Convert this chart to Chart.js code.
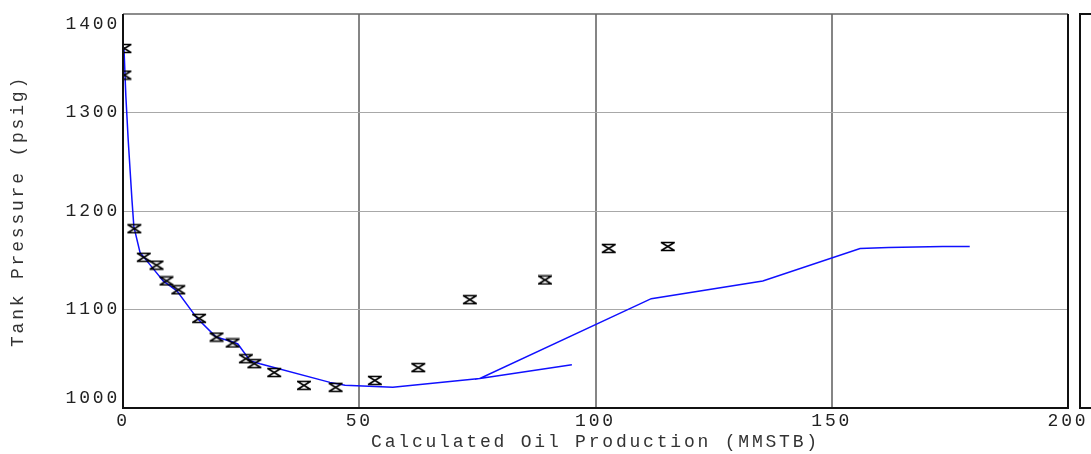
<!DOCTYPE html>
<html>
<head>
<meta charset="utf-8">
<script src="https://cdn.jsdelivr.net/npm/chart.js@4.4.0/dist/chart.umd.min.js"></script>
<style>
  html, body { margin: 0; padding: 0; background: #fff; }
  #wrap { width: 1091px; height: 454px; }
</style>
</head>
<body>
<div id="wrap"><canvas id="tankChart" width="1091" height="454"></canvas></div>
<script>
// observed tank pressure (markers)
var obsProd = [0.3, 0.3, 2.4, 4.4, 7.1, 9.2, 11.7, 16.1, 19.8, 23.2, 26.0, 27.8, 32.0, 38.3, 45.0, 53.3, 62.5, 73.4, 89.3, 102.8, 115.3];
var obsPres = [1365, 1338, 1182, 1153, 1145, 1129, 1120, 1091, 1072, 1066, 1050, 1045, 1036, 1023, 1021, 1028, 1041, 1110, 1130, 1162, 1164];

// calculated tank pressure (line)
var calcProd = [0.2, 0.6, 1.1, 1.9, 2.3, 3.6, 6.3, 8.5, 11.4, 15.7, 19.7, 22.6, 24.3, 26.9, 29.0, 43.8, 47.0, 57.1, 75.5, 95.0, 75.5, 111.8, 135.4, 156.0, 162.0, 173.5, 179.2];
var calcPres = [1366, 1317, 1272, 1211, 1184, 1158, 1142, 1129, 1119, 1091, 1072, 1068, 1065, 1048, 1045, 1026, 1023, 1021, 1030, 1044, 1030, 1111, 1129, 1162, 1163, 1164, 1164];

var xTicks = [0, 50, 100, 150, 200];
var yTicks = [1000, 1100, 1200, 1300, 1400];

var FONT = "'Liberation Mono', 'Courier New', monospace";
var FSIZE = 18;

// hourglass marker
function makeMarker() {
  var c = document.createElement('canvas');
  c.width = 16;
  c.height = 11;
  var g = c.getContext('2d');
  g.strokeStyle = '#000';
  g.lineWidth = 1.5;
  g.beginPath();
  g.moveTo(1, 1.5); g.lineTo(15, 1.5);
  g.moveTo(1, 9.5); g.lineTo(15, 9.5);
  g.moveTo(1.5, 1.5); g.lineTo(14.5, 9.5);
  g.moveTo(14.5, 1.5); g.lineTo(1.5, 9.5);
  g.stroke();
  return c;
}

function toPoints(xs, ys) {
  var pts = [];
  for (var i = 0; i < xs.length; i++) {
    pts.push({x: xs[i], y: ys[i]});
  }
  return pts;
}

// spaced-out text like the original
var spacing = {
  id: 'spacing',
  beforeUpdate: function(chart) { chart.ctx.letterSpacing = '2.8px'; },
  beforeDraw: function(chart) { chart.ctx.letterSpacing = '2.8px'; }
};

// plot frame + the cut-off box at the right
var frame = {
  id: 'frame',
  afterDraw: function(chart) {
    var a = chart.chartArea;
    var ctx = chart.ctx;
    ctx.save();
    ctx.strokeStyle = '#666';
    ctx.lineWidth = 1.5;
    ctx.beginPath();
    ctx.moveTo(a.left, a.top);
    ctx.lineTo(a.right, a.top);
    ctx.stroke();
    ctx.strokeStyle = '#111';
    ctx.lineWidth = 2;
    ctx.beginPath();
    ctx.moveTo(a.left, a.top);
    ctx.lineTo(a.left, a.bottom);
    ctx.lineTo(a.right, a.bottom);
    ctx.lineTo(a.right, a.top);
    ctx.stroke();
    ctx.strokeRect(a.right + 12, a.top, 30, a.bottom - a.top);
    ctx.restore();
  }
};

var ctx = document.getElementById('tankChart');
var tankChart = new Chart(ctx, {
  type: 'scatter',
  data: {
    datasets: [{
      label: 'Observed',
      data: toPoints(obsProd, obsPres),
      pointStyle: makeMarker(),
      pointRadius: 6,
      showLine: false,
      clip: 0
    }, {
      label: 'Calculated',
      data: toPoints(calcProd, calcPres),
      showLine: true,
      borderColor: '#1010ff',
      borderWidth: 1.5,
      pointRadius: 0,
      tension: 0,
      clip: 0
    }]
  },
  options: {
    responsive: false,
    animation: false,
    devicePixelRatio: 1,
    layout: { padding: { top: 14, right: 23, bottom: 0, left: 0 } },
    plugins: {
      legend: { display: false },
      tooltip: { enabled: false }
    },
    scales: {
      x: {
        type: 'linear',
        min: 0,
        max: 200,
        afterBuildTicks: function(scale) {
          scale.ticks = xTicks.map(function(v) { return {value: v}; });
        },
        afterFit: function(scale) {
          scale.height = 46;
          scale.paddingLeft = 0;
          scale.paddingRight = 0;
        },
        border: { display: false },
        grid: {
          drawTicks: false,
          color: function(c) {
            var v = c.tick && c.tick.value;
            return (v === 0 || v === 200) ? 'rgba(0,0,0,0)' : '#858585';
          },
          lineWidth: 2
        },
        ticks: {
          padding: 2,
          color: '#222',
          font: { family: FONT, size: FSIZE }
        },
        title: {
          display: true,
          text: 'Calculated Oil Production (MMSTB)',
          color: '#333',
          font: { family: FONT, size: FSIZE },
          padding: { top: 0, bottom: 1 }
        }
      },
      y: {
        type: 'linear',
        min: 1000,
        max: 1400,
        afterBuildTicks: function(scale) {
          scale.ticks = yTicks.map(function(v) { return {value: v}; });
        },
        afterFit: function(scale) {
          scale.width = 123;
          scale.paddingTop = 0;
          scale.paddingBottom = 0;
        },
        border: { display: false },
        grid: {
          drawTicks: false,
          color: function(c) {
            var v = c.tick && c.tick.value;
            return (v === 1000 || v === 1400) ? 'rgba(0,0,0,0)' : '#a8a8a8';
          },
          lineWidth: 1
        },
        ticks: {
          padding: 3,
          color: '#222',
          font: { family: FONT, size: FSIZE, lineHeight: 1.1 },
          callback: function(v) {
            // end labels sit inside the frame
            if (v === 1400) return ['', '' + v];
            if (v === 1000) return ['' + v, ''];
            return '' + v;
          }
        },
        title: {
          display: true,
          text: 'Tank Pressure (psig)',
          color: '#333',
          font: { family: FONT, size: FSIZE },
          padding: { top: 7, bottom: 7 }
        }
      }
    }
  },
  plugins: [spacing, frame]
});
</script>
</body>
</html>
